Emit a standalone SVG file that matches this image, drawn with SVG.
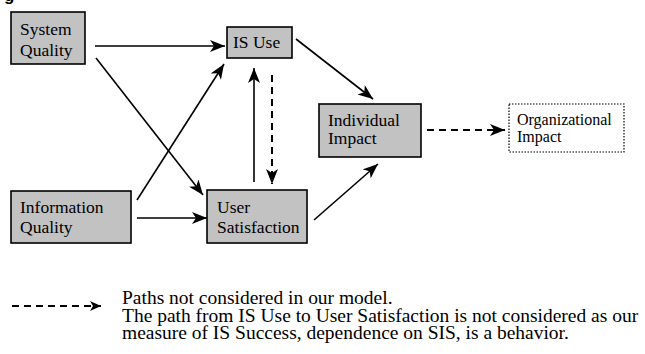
<svg xmlns="http://www.w3.org/2000/svg" width="645" height="354" viewBox="0 0 645 354">
<style>
.box{fill:#c2c2c2;stroke:#000;stroke-width:1.6}
.dot{fill:#fff;stroke:#000;stroke-width:1.2;stroke-dasharray:1.5 1.5}
.lbl{font-family:"Liberation Serif","Times New Roman",serif;font-size:17.5px;fill:#000}
.sm{font-family:"Liberation Serif","Times New Roman",serif;font-size:16px;fill:#000}
.leg{font-family:"Liberation Serif","Times New Roman",serif;font-size:18px;fill:#000}
.ln{stroke:#000;stroke-width:1.6;fill:none}
.dl{stroke:#000;stroke-width:2;fill:none;stroke-dasharray:7 5}
</style>
<defs>
<marker id="ah" markerUnits="userSpaceOnUse" markerWidth="16" markerHeight="12" refX="15" refY="6" orient="auto">
<path d="M0,0 L15,6 L0,12 L4,6 z" fill="#000"/>
</marker>
<marker id="ahs" markerUnits="userSpaceOnUse" markerWidth="12" markerHeight="10" refX="11" refY="5" orient="auto">
<path d="M0,0 L11,5 L0,10 L3,5 z" fill="#000"/>
</marker>
</defs>
<rect width="645" height="354" fill="#fff"/>
<text x="4" y="1" font-family="Liberation Sans,Arial,sans-serif" font-weight="bold" font-size="17px">g</text>

<g id="system-quality">
<rect class="box" x="11" y="12" width="74" height="52"/>
<text class="lbl" x="20" y="35">System</text>
<text class="lbl" x="20" y="56">Quality</text>
</g>
<g id="is-use">
<rect class="box" x="227" y="27" width="65" height="31"/>
<text class="lbl" x="233" y="48">IS Use</text>
</g>
<g id="individual-impact">
<rect class="box" x="319" y="104" width="102" height="53"/>
<text class="lbl" x="328" y="126">Individual</text>
<text class="lbl" x="328" y="144">Impact</text>
</g>
<g id="organizational-impact">
<rect class="dot" x="509" y="104" width="115" height="48"/>
<text class="sm" x="517" y="125">Organizational</text>
<text class="sm" x="517" y="142">Impact</text>
</g>
<g id="information-quality">
<rect class="box" x="11" y="191" width="120" height="52"/>
<text class="lbl" x="20" y="213">Information</text>
<text class="lbl" x="20" y="233">Quality</text>
</g>
<g id="user-satisfaction">
<rect class="box" x="207" y="190" width="100" height="53"/>
<text class="lbl" x="217" y="213">User</text>
<text class="lbl" x="217" y="233">Satisfaction</text>
</g>

<g id="connectors">
<line class="ln" x1="95" y1="46" x2="225" y2="46" marker-end="url(#ah)"/>
<line class="ln" x1="96" y1="58" x2="203" y2="195" marker-end="url(#ah)"/>
<line class="ln" x1="137" y1="200" x2="224" y2="64" marker-end="url(#ah)"/>
<line class="ln" x1="137" y1="218" x2="207" y2="218" marker-end="url(#ah)"/>
<line class="ln" x1="254" y1="182" x2="254" y2="68" marker-end="url(#ah)"/>
<line class="dl" x1="272" y1="75" x2="272" y2="184" marker-end="url(#ah)"/>
<line class="ln" x1="296" y1="39" x2="373" y2="99" marker-end="url(#ah)"/>
<line class="ln" x1="314" y1="220" x2="378" y2="164" marker-end="url(#ah)"/>
<line class="dl" x1="427" y1="130" x2="505" y2="130" marker-end="url(#ah)"/>
</g>

<g id="legend">
<line class="dl" x1="12" y1="306" x2="101" y2="306" marker-end="url(#ahs)"/>
<g transform="translate(122,0) scale(1.083,1)">
<text class="leg" x="0" y="304">Paths not considered in our model.</text>
<text class="leg" x="0" y="322">The path from IS Use to User Satisfaction is not considered as our</text>
<text class="leg" x="0" y="339">measure of IS Success, dependence on SIS, is a behavior.</text>
</g>
</g>
</svg>
